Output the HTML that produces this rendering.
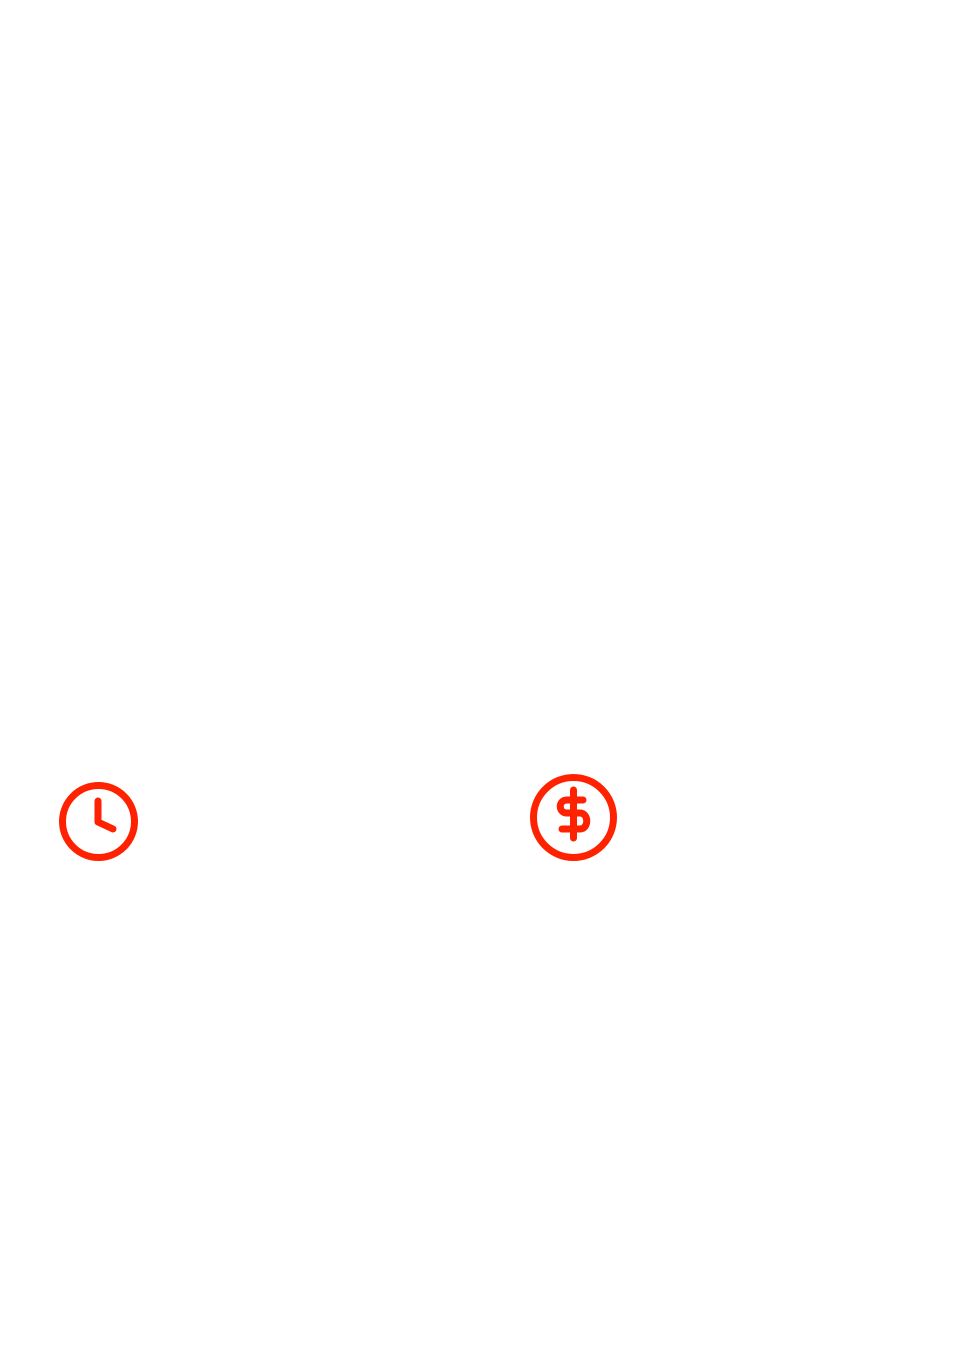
<!DOCTYPE html>
<html><head><style>html,body{margin:0;padding:0;background:#fff;width:979px;height:1346px;overflow:hidden}</style></head>
<body>
<svg width="979" height="1346" style="position:absolute;left:0;top:0">
<g fill="none" stroke="#ff2200" stroke-width="7" stroke-linecap="round" stroke-linejoin="round">
<circle cx="98.5" cy="821.5" r="36"/>
<polyline points="98,801 98,822 113,829"/>
<ellipse cx="573.5" cy="817.5" rx="40" ry="40"/>
<line x1="573.5" y1="790" x2="573.5" y2="838"/>
<path d="M583,800 L567,800 C558,800 558,813 567,813 L580,813 C589,813 589,829 580,829 L562,829"/>
</g>
</svg>
</body></html>
